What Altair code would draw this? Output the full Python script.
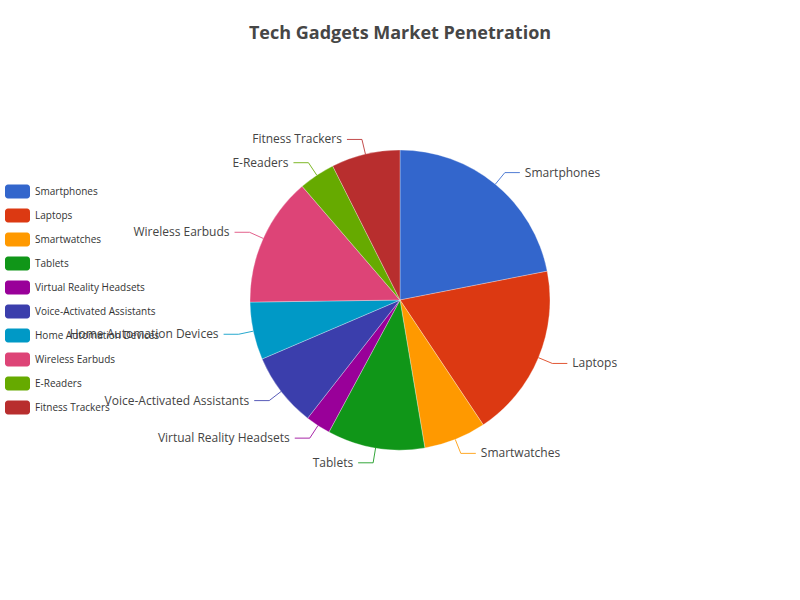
import altair as alt
import pandas as pd

categories = ["Smartphones", "Laptops", "Smartwatches", "Tablets",
              "Virtual Reality Headsets", "Voice-Activated Assistants",
              "Home Automation Devices", "Wireless Earbuds", "E-Readers",
              "Fitness Trackers"]
values = [21.9, 18.7, 6.7, 10.5, 2.7, 8.0, 6.2, 13.9, 3.9, 7.4]
colors = ["#3366cc", "#dc3912", "#ff9900", "#109618", "#990099",
          "#3b3eac", "#0099c6", "#dd4477", "#66aa00", "#b82e2e"]

df = pd.DataFrame({"category": categories, "value": values,
                   "order": list(range(len(categories)))})

FONT = "Open Sans"
CX, CY, R = 400, 240, 150
L1, L2 = 15, 15

rr = ("M-0.76,-0.56 L0.76,-0.56 A0.24,0.24 0 0 1 1,-0.32 L1,0.32 "
      "A0.24,0.24 0 0 1 0.76,0.56 L-0.76,0.56 A0.24,0.24 0 0 1 -1,0.32 "
      "L-1,-0.32 A0.24,0.24 0 0 1 -0.76,-0.56 Z")

color = alt.Color(
    "category:N",
    scale=alt.Scale(domain=categories, range=colors),
    legend=alt.Legend(
        title=None, orient="none", legendX=5, legendY=119,
        symbolType=rr, symbolSize=625, symbolStrokeWidth=0, symbolOpacity=1,
        labelFontSize=10, labelFont=FONT, labelColor="#333333",
        labelOffset=5, rowPadding=4, padding=0, labelLimit=300,
    ),
)

base = alt.Chart(df)

pie = base.mark_arc(radius=R, stroke="#ffffff", strokeWidth=0.3).encode(
    theta=alt.Theta("value:Q", stack=True),
    color=color,
    order=alt.Order("order:Q", sort="ascending"),
)

geo = (
    base.transform_joinaggregate(total="sum(value)")
    .transform_window(cum="sum(value)", sort=[alt.SortField("order")], frame=[None, 0])
    .transform_calculate(
        mid="2*PI*(datum.cum - datum.value/2)/datum.total",
    )
    .transform_calculate(
        sx=f"{CX}+{R}*sin(datum.mid)",
        sy=f"{CY}-{R}*cos(datum.mid)",
        ex=f"{CX}+{R + L1}*sin(datum.mid)",
        ey=f"{CY}-{R + L1}*cos(datum.mid)",
        side="sin(datum.mid) >= 0 ? 1 : -1",
    )
    .transform_calculate(
        hx=f"datum.ex + datum.side*{L2}",
    )
    .transform_calculate(
        tx="datum.hx + datum.side*5",
    )
)

seg1 = geo.mark_rule(strokeWidth=1, opacity=0.85).encode(
    x=alt.X("sx:Q", scale=None), y=alt.Y("sy:Q", scale=None),
    x2="ex:Q", y2="ey:Q",
    color=alt.Color("category:N", scale=alt.Scale(domain=categories, range=colors), legend=None),
)
seg2 = geo.mark_rule(strokeWidth=1, opacity=0.85).encode(
    x=alt.X("ex:Q", scale=None), y=alt.Y("ey:Q", scale=None),
    x2="hx:Q", y2="ey:Q",
    color=alt.Color("category:N", scale=alt.Scale(domain=categories, range=colors), legend=None),
)

txt_r = geo.transform_filter("datum.side > 0").mark_text(
    align="left", baseline="middle", fontSize=12, font=FONT, color="#444444"
).encode(
    x=alt.X("tx:Q", scale=None), y=alt.Y("ey:Q", scale=None), text="category:N"
)
txt_l = geo.transform_filter("datum.side < 0").mark_text(
    align="right", baseline="middle", fontSize=12, font=FONT, color="#444444"
).encode(
    x=alt.X("tx:Q", scale=None), y=alt.Y("ey:Q", scale=None), text="category:N"
)

chart = alt.layer(pie, seg1, seg2, txt_r, txt_l).properties(
    width=800, height=480,
    padding={"top": 60, "bottom": 60, "left": 0, "right": 0},
    autosize=alt.AutoSizeParams(type="none"),
    title=alt.TitleParams(
        "Tech Gadgets Market Penetration", fontSize=18, font=FONT,
        fontWeight="bold", color="#464646", anchor="middle",
        baseline="middle", offset=8,
    ),
).configure_view(stroke=None)

chart.save("out.html", embed_options={"renderer": "svg", "actions": False})
